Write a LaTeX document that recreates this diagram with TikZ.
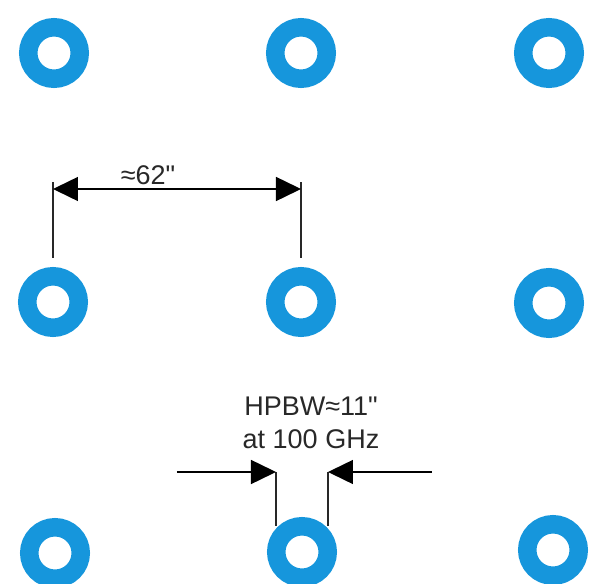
\documentclass[tikz,border=0pt]{standalone}
\usepackage{fontspec}
\setmainfont{Liberation Sans}
\usetikzlibrary{arrows.meta,calc}

\definecolor{ringblue}{RGB}{22,150,220}
\definecolor{labelgray}{RGB}{40,40,40}

\begin{document}
\begin{tikzpicture}[
  x=0.5pt, y=-0.5pt,
  ring/.style={circle, draw=ringblue, line width=9.25pt, minimum size=25.75pt, inner sep=0pt, outer sep=0pt},
  lbl/.style={text=labelgray, font=\fontsize{13.5}{16.5}\selectfont, align=center, inner sep=0pt},
  tick/.style={draw=labelgray, line width=0.75pt},
  arr/.style={-{Triangle[length=12.5pt, width=12pt]}, line width=0.75pt},
  dimarr/.style={{Triangle[length=12.5pt, width=12pt]}-{Triangle[length=12.5pt, width=12pt]}, line width=0.75pt}
]
\useasboundingbox (0,0) rectangle (591,584);

% free ends of the dimension and beam marks
\coordinate (dimtopA) at (53,182);
\coordinate (dimbotA) at (53,258);
\coordinate (dimtopB) at (301,182);
\coordinate (dimbotB) at (301,258);
\coordinate (dimA) at (53,189);
\coordinate (dimB) at (301,189);
\coordinate (beamL) at (276,472);
\coordinate (beamR) at (328,472);
\coordinate (beamLend) at (276,526);
\coordinate (beamRend) at (328,526);
\coordinate (inL) at (177,472);
\coordinate (inR) at (432,472);

% beam edges go behind the rings
\draw[tick] (beamL) -- (beamLend);
\draw[tick] (beamR) -- (beamRend);

% feed horn rings
\node[ring] (r11) at (54,53) {};
\node[ring] (r12) at (301,53) {};
\node[ring] (r13) at (549,53) {};
\node[ring] (r21) at (53,302) {};
\node[ring] (r22) at (301,302) {};
\node[ring] (r23) at (549,303) {};
\node[ring] (r31) at (55,553) {};
\node[ring] (r32) at (302,552) {};
\node[ring] (r33) at (553,550) {};

% spacing between horns
\draw[tick] (dimtopA) -- (dimbotA);
\draw[tick] (dimtopB) -- (dimbotB);
\draw[dimarr] (dimA) -- (dimB);
\node[lbl] (spacing) at (148,175) {≈62\textquotedbl};

% beam width
\node[lbl] (hpbw) at (311,423) {HPBW≈11\textquotedbl\\at 100 GHz};
\draw[arr] (inL) -- (beamL);
\draw[arr] (inR) -- (beamR);

\end{tikzpicture}
\end{document}
